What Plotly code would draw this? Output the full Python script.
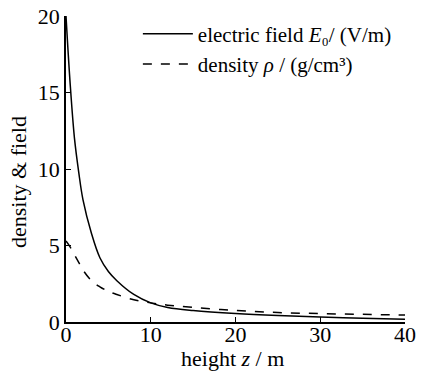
import plotly.graph_objects as go

z = [0, 0.5, 1, 1.5, 2, 3, 4, 5, 6, 8, 10, 12, 15, 20, 25, 30, 35, 40]
field = [20, 15.5, 12, 9.8, 8.0, 5.8, 4.2, 3.3, 2.7, 1.8, 1.25, 0.95, 0.75, 0.55, 0.42, 0.33, 0.25, 0.18]
density = [5.3, 4.9, 4.4, 3.9, 3.4, 2.7, 2.3, 2.0, 1.8, 1.45, 1.25, 1.1, 0.95, 0.75, 0.62, 0.55, 0.5, 0.45]
x_ticks = [0, 10, 20, 30, 40]
y_ticks = [0, 5, 10, 15, 20]

FONT = "Liberation Serif"

fig = go.Figure()
fig.add_trace(go.Scatter(x=z, y=field, mode="lines", line=dict(color="black", width=1.5, shape="spline"),
                         name="electric field <i>E</i>₀/ (V/m)"))
fig.add_trace(go.Scatter(x=z, y=density, mode="lines", line=dict(color="black", width=1.5, dash="dash", shape="spline"),
                         name="density <i>ρ</i> / (g/cm³)"))

fig.update_layout(
    width=421, height=374,
    margin=dict(l=66, r=16, t=16, b=52),
    paper_bgcolor="white", plot_bgcolor="white",
    font=dict(family=FONT, size=22, color="black"),
    showlegend=True,
    legend=dict(x=0.212, y=1.008, xanchor="left", yanchor="top", bgcolor="rgba(0,0,0,0)",
                font=dict(family=FONT, size=21, color="black"), tracegroupgap=0, itemwidth=50),
    xaxis=dict(range=[0, 40], tickvals=x_ticks, ticks="inside", ticklen=5, tickwidth=1.2, tickcolor="black",
               showline=True, linecolor="black", linewidth=1.5, showgrid=False, zeroline=False,
               automargin=False, ticklabelstandoff=-8, tickfont=dict(family=FONT, size=22, color="black")),
    yaxis=dict(range=[0, 20], tickvals=y_ticks, ticks="inside", ticklen=5, tickwidth=1.2, tickcolor="black",
               showline=True, linecolor="black", linewidth=1.5, showgrid=False, zeroline=False,
               automargin=False, tickfont=dict(family=FONT, size=22, color="black")),
    annotations=[
        dict(text="height <i>z</i> / m", xref="paper", yref="paper", x=0.49, y=-0.12,
             xanchor="center", yanchor="middle", showarrow=False,
             font=dict(family=FONT, size=22, color="black")),
        dict(text="density &amp; field", xref="paper", yref="paper", x=-0.142, y=0.457,
             xanchor="center", yanchor="middle", textangle=-90, showarrow=False,
             font=dict(family=FONT, size=22, color="black")),
    ],
)

fig.write_html("out.html")
